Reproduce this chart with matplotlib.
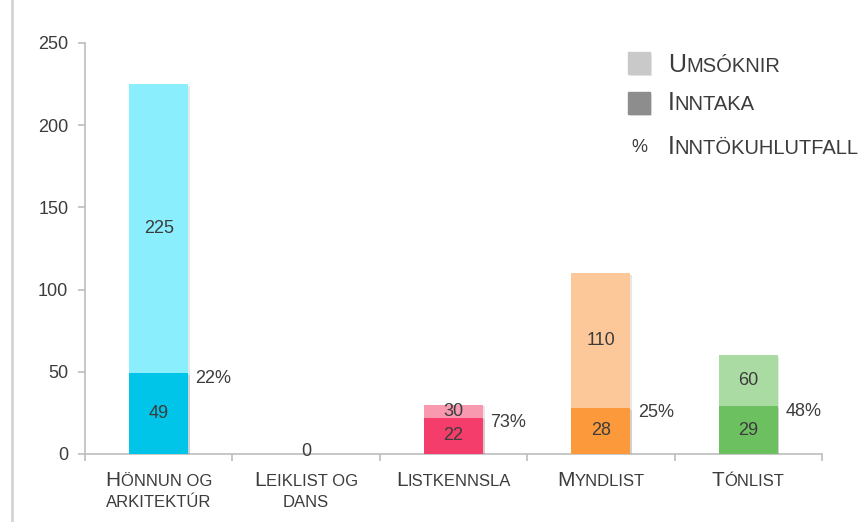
"""
Umsóknir og inntaka eftir deildum - stacked bar chart
"""

import numpy as np
import matplotlib.pyplot as plt
import matplotlib.patheffects as pe
from matplotlib.offsetbox import TextArea, HPacker, VPacker, AnnotationBbox
from matplotlib.patches import Rectangle
from matplotlib.lines import Line2D

#---------------------------------------------------------------------------------------------------
# Data
#---------------------------------------------------------------------------------------------------

categories = ['Hönnun og\narkitektúr', 'Leiklist og\ndans', 'Listkennsla', 'Myndlist', 'Tónlist']
umsoknir = [225, 0, 30, 110, 60]
inntaka = [49, 0, 22, 28, 29]
legend_labels = ['Umsóknir', 'Inntaka', 'Inntökuhlutfall']
yticks = [0, 50, 100, 150, 200, 250]

light_colors = ['#8BEEFD', '#8BEEFD', '#F899AF', '#FDC899', '#AADBA2']
dark_colors = ['#00C5E9', '#00C5E9', '#F43D6B', '#FC9A3B', '#6CC05F']

txt_color = '#3C3C3C'
axis_color = '#BDBDBD'

plt.rcParams['font.family'] = ['Liberation Sans', 'DejaVu Sans']


def small_caps(text, big=12, small=9.5, color=txt_color, sep=2):
    """Pack text as small caps: first letter large, the rest in smaller capitals"""
    lines = []
    for i, line in enumerate(text.split('\n')):
        parts = []
        if i == 0:
            parts.append(TextArea(line[0].upper(), textprops=dict(size=big, color=color)))
            line = line[1:]
        parts.append(TextArea(line.upper(), textprops=dict(size=small, color=color)))
        lines.append(HPacker(children=parts, align='baseline', pad=0, sep=0))
    return VPacker(children=lines, align='center', pad=0, sep=sep)


#---------------------------------------------------------------------------------------------------
# Plot
#---------------------------------------------------------------------------------------------------

W, H = 861, 522
fig = plt.figure(figsize=(W / 100, H / 100), dpi=100)
ax = fig.add_axes([85 / W, 1 - 454 / H, (822 - 85) / W, (454 - 43) / H])

x = np.arange(len(categories))
width = 0.4
shadow = [pe.SimplePatchShadow(offset=(1.2, -1.2), alpha=0.12), pe.Normal()]

b1 = ax.bar(x, umsoknir, width, color=light_colors, zorder=2)
b2 = ax.bar(x, inntaka, width, color=dark_colors, zorder=3)
for b in list(b1) + list(b2):
    b.set_path_effects(shadow)

fs = 13
for i in range(len(categories)):
    if umsoknir[i] == 0:
        ax.text(x[i], 1.5, '0', ha='center', va='center', size=fs, color=txt_color, zorder=5)
        continue
    ax.text(x[i], (umsoknir[i] + inntaka[i]) / 2, str(umsoknir[i]), ha='center', va='center',
            size=fs, color=txt_color, zorder=5)
    ax.text(x[i], inntaka[i] / 2, str(inntaka[i]), ha='center', va='center',
            size=fs, color=txt_color, zorder=5)
    pct = 100 * inntaka[i] / umsoknir[i]
    ax.text(x[i] + width / 2 + 0.05, inntaka[i] - 3, '%d%%' % round(pct), ha='left', va='center',
            size=fs, color=txt_color, zorder=5)

ax.set_xlim(-0.5, len(categories) - 0.5)
ax.set_ylim(0, 250)
ax.set_yticks(yticks)
ax.set_xticks(np.arange(len(categories) + 1) - 0.5)
ax.set_xticklabels([])
ax.tick_params(axis='y', colors=axis_color, labelcolor=txt_color, labelsize=13,
               length=5, width=1.2, pad=7)
ax.tick_params(axis='x', colors=axis_color, length=5, width=1.2)
for s in ['top', 'right']:
    ax.spines[s].set_visible(False)
for s in ['left', 'bottom']:
    ax.spines[s].set_color(axis_color)
    ax.spines[s].set_linewidth(1.2)

# Category labels in small caps below the axis
for i, cat in enumerate(categories):
    ab = AnnotationBbox(small_caps(cat, big=15, small=12, sep=3), (x[i], 0),
                        xycoords=('data', 'axes fraction'),
                        xybox=(0, -12.5), boxcoords='offset points', box_alignment=(0.5, 1),
                        frameon=False, annotation_clip=False)
    ax.add_artist(ab)

# Legend
for y_px, col in zip([63, 103], ['#C9C9C9', '#8D8D8D']):
    fig.patches.append(Rectangle((628 / W, 1 - (y_px + 11) / H), 22 / W, 22 / H,
                                 transform=fig.transFigure, color=col,
                                 path_effects=shadow))
fig.text(639 / W, 1 - 148 / H, '%', ha='center', va='center', size=13, color=txt_color)
for y_px, lab in zip([65, 103, 147], legend_labels):
    ab = AnnotationBbox(small_caps(lab, big=18, small=14.5), (668 / W, 1 - y_px / H),
                        xycoords='figure fraction', box_alignment=(0, 0.5), frameon=False)
    fig.add_artist(ab)

# Page border on the left
fig.add_artist(Line2D([12 / W, 12 / W], [0, 1], transform=fig.transFigure,
                      color='#D4D4D4', lw=2))

fig.savefig('out.png', dpi=100)
